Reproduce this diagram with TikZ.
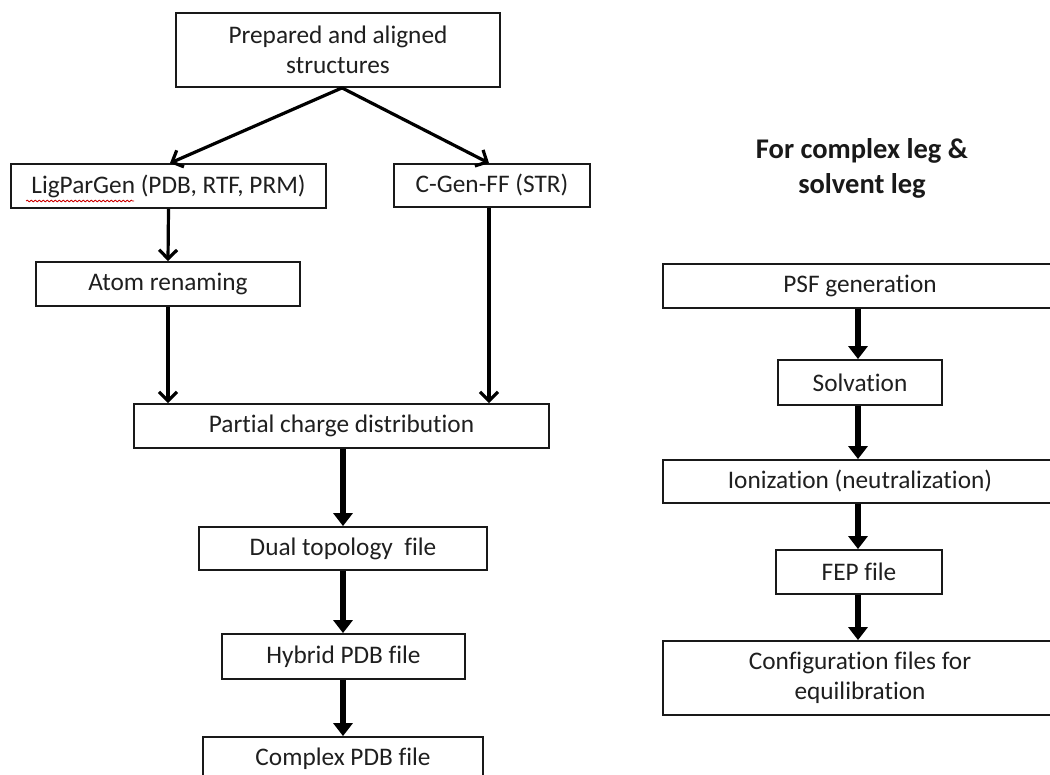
\documentclass[tikz,border=0pt]{standalone}
\usepackage{fontspec}
\setmainfont{Carlito}[RawFeature={-liga}]
\usetikzlibrary{arrows.meta,decorations.pathmorphing}
\begin{document}
\begin{tikzpicture}[x=1pt,y=-1pt,
  box/.style={draw=black!90,line width=1.8pt,fill=white,inner sep=0pt,align=center,
    font=\fontsize{25.3}{30}\selectfont,text=black!88},
  thinarrow/.style={line width=3.2pt,-{Straight Barb[length=9pt,width=18pt,line width=3.2pt]}},
  thickarrow/.style={line width=5.5pt,-{Triangle[length=13pt,width=19pt]}},
]
\clip (0,0) rectangle (1050,775);
\fill[white] (0,0) rectangle (1050,775);
% left column
\node[box,minimum width=324pt,minimum height=74pt] (top) at (338,50) {Prepared and aligned\\structures};
\node[box,minimum width=315pt,minimum height=44pt] (lig) at (168.5,186) {LigParGen (PDB, RTF, PRM)};
\node[box,minimum width=196pt,minimum height=43pt] (cgen) at (492,185.5) {C-Gen-FF (STR)};
\node[box,minimum width=264pt,minimum height=44pt] (atom) at (168,284) {Atom renaming};
\node[box,minimum width=415pt,minimum height=44pt] (partial) at (341.5,426) {Partial charge distribution};
\node[box,minimum width=288pt,minimum height=43pt] (dual) at (343,548.5) {Dual topology\ \ file};
\node[box,minimum width=243pt,minimum height=45pt] (hybrid) at (343.5,656.5) {Hybrid PDB file};
\node[box,minimum width=280pt,minimum height=44pt] (complex) at (343,759) {Complex PDB file};
% spell-check underline
\draw[red!80!black,line width=0.8pt,decorate,decoration={snake,amplitude=0.9pt,segment length=4pt}] (26,201) -- (134,201);
% right column
\node[font=\bfseries\fontsize{28.5}{35}\selectfont,align=center,text=black!90] (title) at (862,168) {For complex leg \&\\solvent leg};
\node[box,minimum width=394pt,minimum height=44pt] (psf) at (860,286) {PSF generation};
\node[box,minimum width=164pt,minimum height=45pt] (solv) at (860,382.5) {Solvation};
\node[box,minimum width=394pt,minimum height=43pt] (ion) at (860,481.5) {Ionization (neutralization)};
\node[box,minimum width=166pt,minimum height=44pt] (fep) at (859,572) {FEP file};
\node[box,minimum width=394pt,minimum height=74pt] (config) at (860,678) {Configuration files for\\equilibration};
% connectors left
\draw[thinarrow] ([xshift=4pt]top.south) -- ([xshift=1.5pt]lig.north);
\draw[thinarrow] ([xshift=4pt]top.south) -- ([xshift=-3pt]cgen.north);
\draw[thinarrow] (lig.south) -- (atom.north);
\draw[thinarrow] (atom.south) -- (atom.south |- partial.north);
\draw[thinarrow] ([xshift=-3pt]cgen.south) -- ([xshift=-3pt]cgen.south |- partial.north);
\draw[thickarrow] (dual.north |- partial.south) -- (dual.north);
\draw[thickarrow] (dual.south) -- (dual.south |- hybrid.north);
\draw[thickarrow] (dual.south |- hybrid.south) -- (dual.south |- complex.north);
% connectors right
\draw[thickarrow] ([xshift=-2pt]psf.south) -- ([xshift=-2pt]solv.north);
\draw[thickarrow] ([xshift=-2pt]solv.south) -- ([xshift=-2pt]solv.south |- ion.north);
\draw[thickarrow] ([xshift=-2pt]ion.south) -- ([xshift=-1pt]fep.north);
\draw[thickarrow] ([xshift=-1pt]fep.south) -- ([xshift=-1pt]fep.south |- config.north);
\end{tikzpicture}
\end{document}
